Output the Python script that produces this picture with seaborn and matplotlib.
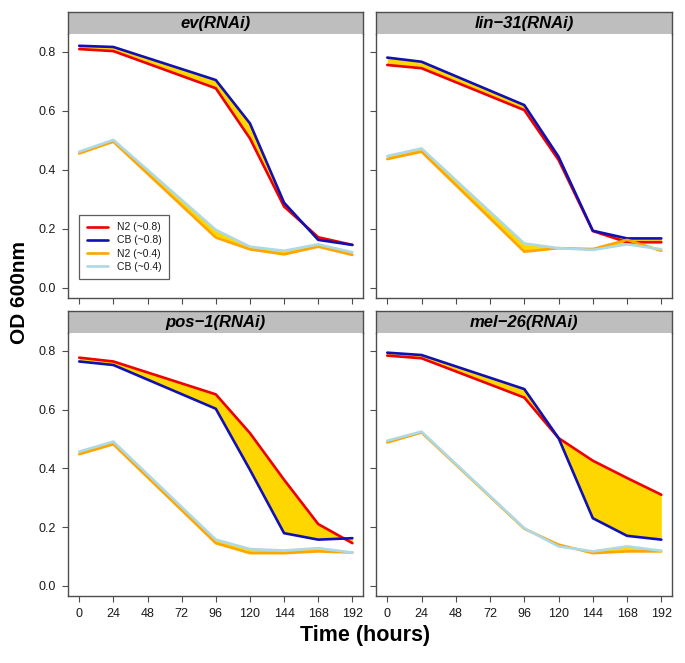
import numpy as np
import pandas as pd
import matplotlib
matplotlib.use("Agg")
import matplotlib.pyplot as plt
from matplotlib.lines import Line2D
import seaborn as sns

sns.set_style("white")
plt.rcParams['font.family'] = ['Liberation Sans', 'DejaVu Sans']
plt.rcParams['text.color'] = 'black'

# ---------------- data ----------------
time_hours = [0, 24, 96, 120, 144, 168, 192]
panels = ["ev(RNAi)", "lin\u221231(RNAi)", "pos\u22121(RNAi)", "mel\u221226(RNAi)"]
series_names = ["N2 (~0.8)", "CB (~0.8)", "N2 (~0.4)", "CB (~0.4)"]

ev_n2_08 = [0.810, 0.803, 0.677, 0.507, 0.276, 0.172, 0.146]
ev_cb_08 = [0.821, 0.817, 0.705, 0.558, 0.289, 0.163, 0.146]
ev_n2_04 = [0.456, 0.496, 0.171, 0.131, 0.114, 0.140, 0.112]
ev_cb_04 = [0.462, 0.502, 0.197, 0.140, 0.126, 0.148, 0.121]

lin31_n2_08 = [0.756, 0.745, 0.603, 0.434, 0.193, 0.155, 0.155]
lin31_cb_08 = [0.781, 0.767, 0.620, 0.445, 0.194, 0.168, 0.168]
lin31_n2_04 = [0.437, 0.462, 0.123, 0.135, 0.132, 0.163, 0.126]
lin31_cb_04 = [0.447, 0.473, 0.151, 0.135, 0.129, 0.148, 0.131]

pos1_n2_08 = [0.777, 0.764, 0.652, 0.520, 0.361, 0.210, 0.145]
pos1_cb_08 = [0.764, 0.752, 0.603, 0.395, 0.179, 0.157, 0.162]
pos1_n2_04 = [0.448, 0.482, 0.145, 0.111, 0.111, 0.117, 0.113]
pos1_cb_04 = [0.457, 0.491, 0.157, 0.125, 0.120, 0.128, 0.113]

mel26_n2_08 = [0.784, 0.775, 0.641, 0.503, 0.426, 0.367, 0.310]
mel26_cb_08 = [0.794, 0.786, 0.670, 0.503, 0.230, 0.170, 0.157]
mel26_n2_04 = [0.488, 0.522, 0.194, 0.140, 0.111, 0.117, 0.117]
mel26_cb_04 = [0.494, 0.525, 0.196, 0.134, 0.117, 0.134, 0.119]

panel_data = {
    panels[0]: [ev_n2_08, ev_cb_08, ev_n2_04, ev_cb_04],
    panels[1]: [lin31_n2_08, lin31_cb_08, lin31_n2_04, lin31_cb_04],
    panels[2]: [pos1_n2_08, pos1_cb_08, pos1_n2_04, pos1_cb_04],
    panels[3]: [mel26_n2_08, mel26_cb_08, mel26_n2_04, mel26_cb_04],
}

x_ticks = [0, 24, 48, 72, 96, 120, 144, 168, 192]
y_ticks = [0.0, 0.2, 0.4, 0.6, 0.8]

# ---------------- style ----------------
colors = {"N2 (~0.8)": "#EE0000", "CB (~0.8)": "#1010B4",
          "N2 (~0.4)": "#FFA500", "CB (~0.4)": "#ADD8E6"}
fill_color = "#FFD700"
edge = "#4D4D4D"

W, H = 685, 663
fig = plt.figure(figsize=(W / 100, H / 100), dpi=100)

col_x = [(68.3, 363.3), (376.3, 672.3)]
row_y = [(12.3, 34.3, 298.0), (311.0, 333.3, 595.7)]  # strip top, strip bottom, axes bottom


def fr(x0, y_top, x1, y_bot):
    return [x0 / W, 1 - y_bot / H, (x1 - x0) / W, (y_bot - y_top) / H]


for i, name in enumerate(panels):
    r, c = divmod(i, 2)
    x0, x1 = col_x[c]
    st, sb, ab = row_y[r]
    ax = fig.add_axes(fr(x0, sb, x1, ab))
    sax = fig.add_axes(fr(x0, st, x1, sb))

    vals = panel_data[name]
    df = pd.DataFrame({
        "time": np.tile(time_hours, 4),
        "od": np.concatenate(vals),
        "series": np.repeat(series_names, len(time_hours)),
    })

    ax.fill_between(time_hours, vals[0], vals[1], color=fill_color, lw=0, interpolate=True)
    ax.fill_between(time_hours, vals[2], vals[3], color=fill_color, lw=0, interpolate=True)

    sns.lineplot(data=df, x="time", y="od", hue="series", hue_order=series_names,
                 palette=colors, estimator=None, sort=False, lw=1.9, legend=False, ax=ax)

    ax.set_xlim(-7.68, 199.68)
    ax.set_ylim(-0.034, 0.86)
    ax.set_xticks(x_ticks)
    ax.set_yticks(y_ticks)
    ax.set_xlabel("")
    ax.set_ylabel("")
    ax.tick_params(bottom=True, left=True, top=False, right=False,
                   direction="out", length=4.6, width=0.8, color=edge,
                   labelsize=9, labelcolor="#1a1a1a", pad=4.5)
    if c == 0:
        ax.set_yticklabels([f"{v:.1f}" for v in y_ticks])
    else:
        ax.set_yticklabels([])
    if r == 1:
        ax.set_xticklabels([str(v) for v in x_ticks])
    else:
        ax.set_xticklabels([])
    for s in ["left", "right", "bottom"]:
        ax.spines[s].set_visible(True)
        ax.spines[s].set_color(edge)
        ax.spines[s].set_linewidth(1.0)
    ax.spines["top"].set_visible(False)

    sax.set_facecolor("#BEBEBE")
    sax.set_xticks([])
    sax.set_yticks([])
    for s in ["left", "right", "top"]:
        sax.spines[s].set_visible(True)
        sax.spines[s].set_color(edge)
        sax.spines[s].set_linewidth(1.0)
    sax.spines["bottom"].set_visible(False)
    sax.text(0.5, 0.47, name, transform=sax.transAxes, ha="center", va="center",
             fontsize=12, fontweight="bold", fontstyle="italic", color="black")

    if i == 0:
        handles = [Line2D([0], [0], color=colors[s], lw=1.9) for s in series_names]
        leg = ax.legend(handles, series_names, loc="lower left",
                        bbox_to_anchor=(0.037, 0.072), fontsize=7.5,
                        frameon=True, fancybox=False, handlelength=2.1,
                        handletextpad=0.85, labelspacing=0.3, borderpad=0.7,
                        borderaxespad=0)
        leg.get_frame().set_edgecolor("#333333")
        leg.get_frame().set_linewidth(0.9)
        for t in leg.get_texts():
            t.set_color("#1a1a1a")

fig.text(20 / W, 1 - 292 / H, "OD 600nm", rotation=90, ha="center", va="center",
         fontsize=15, fontweight="bold", color="black")
fig.text(365 / W, 1 - 636 / H, "Time (hours)", ha="center", va="center",
         fontsize=15.5, fontweight="bold", color="black")

fig.savefig("out.png", dpi=100)
